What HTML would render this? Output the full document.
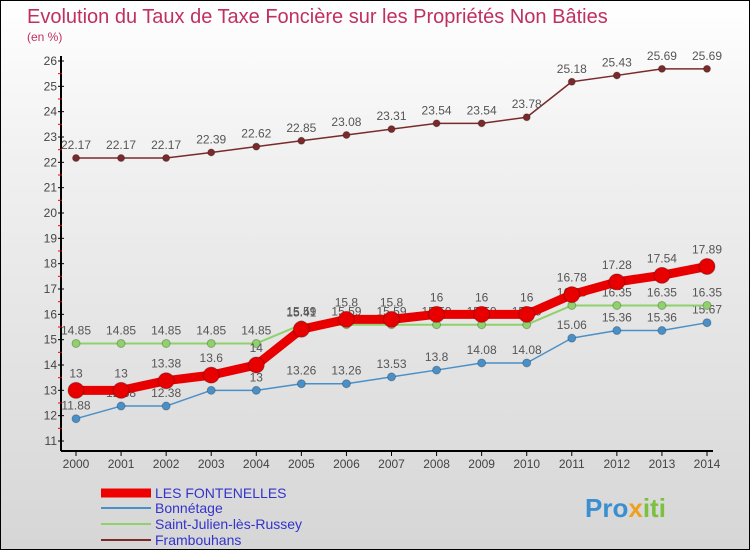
<!DOCTYPE html>
<html><head><meta charset="utf-8"><style>
body{margin:0}
#c{width:748px;height:548px;border:1px solid #000;background:linear-gradient(#fff 0%,#f0f0f0 30%,#d6d6d6 100%);position:relative;font-family:"Liberation Sans",sans-serif;overflow:hidden}
svg{position:absolute;left:0;top:0}
</style></head><body>
<div id="c">
<svg id="s" width="750" height="550">
<text x="26" y="22" font-size="20" fill="#c0305f">Evolution du Taux de Taxe Foncière sur les Propriétés Non Bâties</text>
<text x="26" y="40" font-size="12" fill="#c0305f">(en %)</text>
<g id="ax"></g><g id="series"></g>
<g>
<line x1="100" y1="492" x2="150" y2="492" stroke="#e00" stroke-width="9"/>
<text x="154" y="497" font-size="14" fill="#33c">LES FONTENELLES</text>
<line x1="100" y1="507" x2="150" y2="507" stroke="#4a90c8" stroke-width="2"/>
<text x="154" y="512" font-size="14" fill="#33c">Bonnétage</text>
<line x1="100" y1="523" x2="150" y2="523" stroke="#8fd16a" stroke-width="2"/>
<text x="154" y="528" font-size="14" fill="#33c">Saint-Julien-lès-Russey</text>
<line x1="100" y1="539" x2="150" y2="539" stroke="#7a2a2a" stroke-width="2"/>
<text x="154" y="544" font-size="14" fill="#33c">Frambouhans</text>
</g>
<text x="584" y="516" font-size="26" font-weight="bold" fill="#3a8fd0">Pro<tspan fill="#f0a020">x</tspan><tspan fill="#7cc040">iti</tspan></text>
</svg></div>
<script>
const years=[2000,2001,2002,2003,2004,2005,2006,2007,2008,2009,2010,2011,2012,2013,2014];
const yTicks=[11,12,13,14,15,16,17,18,19,20,21,22,23,24,25,26];
const fontenelles=[13,13,13.38,13.6,14,15.41,15.8,15.8,16,16,16,16.78,17.28,17.54,17.89];
const bonnetage=[11.88,12.38,12.38,13,13,13.26,13.26,13.53,13.8,14.08,14.08,15.06,15.36,15.36,15.67];
const saintJulien=[14.85,14.85,14.85,14.85,14.85,15.59,15.59,15.59,15.59,15.59,15.59,16.35,16.35,16.35,16.35];
const frambouhans=[22.17,22.17,22.17,22.39,22.62,22.85,23.08,23.31,23.54,23.54,23.78,25.18,25.43,25.69,25.69];
const NS="http://www.w3.org/2000/svg";
const X=i=>75+i*(706-75)/(years.length-1);
const Y=v=>440-(v-11)*(380/15);
function mk(tag,attrs,parent){const e=document.createElementNS(NS,tag);for(const k in attrs)e.setAttribute(k,attrs[k]);parent.appendChild(e);return e;}
const ax=document.getElementById('ax');
let l=mk('line',{x1:60,y1:55,x2:60,y2:450,stroke:'#000','stroke-width':2},ax);


l=mk('line',{x1:60,y1:450,x2:712,y2:450,stroke:'#000','stroke-width':2},ax);


yTicks.forEach(v=>{
 mk('line',{x1:57,y1:Y(v),x2:63,y2:Y(v),stroke:'#000'},ax);
 if(v<26)mk('line',{x1:57,y1:Y(v+0.5),x2:61,y2:Y(v+0.5),stroke:'#e00'},ax);
 const t=mk('text',{x:56,y:Y(v)+4,'font-size':12,fill:'#444','text-anchor':'end'},ax);t.textContent=v;
 
 
});
years.forEach((y,i)=>{
 mk('line',{x1:X(i),y1:450,x2:X(i),y2:455,stroke:'#000'},ax);
 const t=mk('text',{x:X(i),y:467,'font-size':12,fill:'#444','text-anchor':'middle'},ax);t.textContent=y;
 
 
});
const sg=document.getElementById('series');
function draw(vals,color,w,r,name,dy){
 const g=mk('g',{},sg);
 
 
 mk('polyline',{points:vals.map((v,i)=>X(i)+','+Y(v)).join(' '),fill:'none',stroke:color,'stroke-width':w,'stroke-linejoin':'round'},g);
 vals.forEach((v,i)=>{
  const c=mk('circle',{cx:X(i),cy:Y(v),r:r,fill:color,stroke:'rgba(0,0,0,0.25)'},g);
  
  
  const t=mk('text',{x:X(i),y:Y(v)+dy,'font-size':12,fill:'#555','text-anchor':'middle'},g);t.textContent=v;
  
  
 });
}
draw(frambouhans,'#7a2a2a',1.5,3.5,'frambouhans',-9);
draw(bonnetage,'#4a90c8',1.5,4,'bonnetage',-9);
draw(saintJulien,'#8fd16a',2,4,'saint-julien',-9);
draw(fontenelles,'#e80000',9,8,'les-fontenelles',-13);
</script>
</body></html>
